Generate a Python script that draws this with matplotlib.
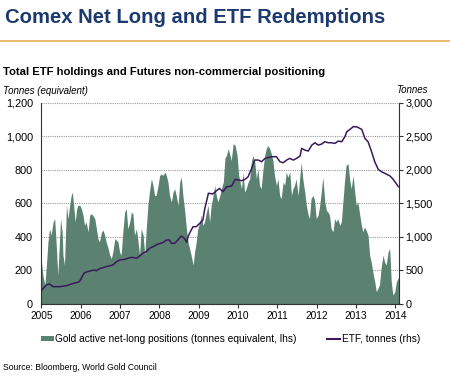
import numpy as np
import matplotlib
matplotlib.use("Agg")
import matplotlib.pyplot as plt
from matplotlib.patches import Patch
from matplotlib.lines import Line2D

plt.rcParams['font.family'] = ['Liberation Sans', 'DejaVu Sans']

# Gold active net-long positions (tonnes equivalent, lhs), decimal years
netlong_t = [
    2005.00, 2005.04, 2005.09, 2005.13, 2005.17, 2005.21, 2005.25, 2005.30, 2005.34, 2005.38,
    2005.42, 2005.47, 2005.49, 2005.53, 2005.55, 2005.59, 2005.64, 2005.68, 2005.72, 2005.76,
    2005.79, 2005.83, 2005.86, 2005.90, 2005.93, 2005.98, 2006.02, 2006.06, 2006.10, 2006.14,
    2006.19, 2006.23, 2006.27, 2006.31, 2006.36, 2006.40, 2006.44, 2006.48, 2006.53, 2006.57,
    2006.61, 2006.65, 2006.70, 2006.74, 2006.78, 2006.82, 2006.87, 2006.91, 2006.95, 2006.99,
    2007.03, 2007.08, 2007.12, 2007.16, 2007.20, 2007.25, 2007.29, 2007.33, 2007.37, 2007.42,
    2007.46, 2007.50, 2007.54, 2007.59, 2007.63, 2007.67, 2007.71, 2007.76, 2007.80, 2007.84,
    2007.88, 2007.92, 2007.97, 2008.01, 2008.05, 2008.09, 2008.14, 2008.18, 2008.22, 2008.26,
    2008.31, 2008.35, 2008.39, 2008.43, 2008.48, 2008.52, 2008.56, 2008.60, 2008.65, 2008.69,
    2008.73, 2008.77, 2008.81, 2008.86, 2008.90, 2008.94, 2008.98, 2009.03, 2009.07, 2009.11,
    2009.15, 2009.20, 2009.24, 2009.28, 2009.32, 2009.37, 2009.41, 2009.45, 2009.49, 2009.54,
    2009.58, 2009.63, 2009.67, 2009.71, 2009.75, 2009.79, 2009.83, 2009.88, 2009.93, 2009.98,
    2010.02, 2010.04, 2010.09, 2010.13, 2010.17, 2010.21, 2010.26, 2010.30, 2010.34, 2010.38,
    2010.43, 2010.47, 2010.51, 2010.55, 2010.59, 2010.64, 2010.68, 2010.72, 2010.76, 2010.81,
    2010.85, 2010.89, 2010.93, 2010.98, 2011.02, 2011.06, 2011.10, 2011.15, 2011.19, 2011.23,
    2011.27, 2011.32, 2011.36, 2011.40, 2011.44, 2011.48, 2011.53, 2011.57, 2011.61, 2011.65,
    2011.70, 2011.74, 2011.78, 2011.82, 2011.86, 2011.91, 2011.95, 2011.99, 2012.04, 2012.08,
    2012.12, 2012.16, 2012.21, 2012.25, 2012.29, 2012.33, 2012.37, 2012.42, 2012.46, 2012.50,
    2012.54, 2012.59, 2012.63, 2012.67, 2012.71, 2012.75, 2012.80, 2012.84, 2012.88, 2012.93,
    2012.97, 2013.01, 2013.05, 2013.10, 2013.14, 2013.18, 2013.22, 2013.26, 2013.31, 2013.35,
    2013.39, 2013.43, 2013.48, 2013.52, 2013.56, 2013.60, 2013.64, 2013.69, 2013.73, 2013.77,
    2013.82, 2013.86, 2013.90, 2013.94, 2013.99, 2014.03, 2014.07, 2014.09,
]
netlong = [
    260, 172, 113, 232, 370, 449, 410, 489, 509, 350,
    172, 410, 509, 430, 291, 232, 588, 509, 588, 647,
    667, 568, 489, 568, 588, 588, 568, 529, 469, 489,
    430, 529, 538, 529, 509, 449, 390, 370, 430, 440,
    410, 370, 330, 291, 271, 311, 390, 380, 370, 311,
    291, 449, 548, 568, 449, 489, 548, 538, 410, 449,
    370, 291, 449, 410, 291, 449, 588, 687, 746, 707,
    647, 647, 707, 766, 776, 766, 786, 766, 727, 647,
    608, 667, 687, 647, 588, 727, 756, 647, 548, 449,
    370, 330, 291, 232, 311, 370, 449, 489, 529, 469,
    489, 548, 588, 489, 588, 647, 707, 647, 608, 647,
    687, 728, 869, 887, 925, 895, 855, 956, 945, 885,
    766, 746, 687, 786, 667, 687, 727, 746, 845, 885,
    845, 746, 806, 707, 687, 806, 885, 925, 945, 925,
    895, 855, 766, 707, 746, 647, 628, 727, 707, 786,
    756, 786, 647, 687, 707, 746, 647, 746, 845, 746,
    667, 588, 538, 509, 628, 647, 618, 509, 529, 588,
    667, 756, 608, 558, 548, 529, 449, 430, 509, 489,
    509, 469, 489, 608, 727, 826, 836, 746, 687, 766,
    667, 588, 608, 529, 469, 430, 459, 440, 410, 291,
    251, 192, 133, 73, 93, 113, 212, 291, 251, 232,
    311, 330, 133, 53, 73, 133, 152, 160,
]

# ETF holdings, tonnes (rhs)
etf_t = [
    2005.00, 2005.13, 2005.21, 2005.30, 2005.47, 2005.64, 2005.76, 2005.89, 2005.97, 2006.06,
    2006.10, 2006.23, 2006.36, 2006.40, 2006.48, 2006.65, 2006.82, 2006.91, 2006.99, 2007.12,
    2007.25, 2007.33, 2007.42, 2007.50, 2007.58, 2007.67, 2007.75, 2007.84, 2007.97, 2008.09,
    2008.18, 2008.26, 2008.31, 2008.39, 2008.47, 2008.56, 2008.64, 2008.70, 2008.73, 2008.79,
    2008.86, 2008.94, 2009.03, 2009.11, 2009.15, 2009.19, 2009.25, 2009.36, 2009.46, 2009.53,
    2009.62, 2009.71, 2009.84, 2009.93, 2010.01, 2010.10, 2010.18, 2010.26, 2010.35, 2010.43,
    2010.52, 2010.60, 2010.69, 2010.86, 2010.98, 2011.07, 2011.15, 2011.24, 2011.32, 2011.41,
    2011.49, 2011.58, 2011.62, 2011.70, 2011.79, 2011.88, 2011.96, 2012.04, 2012.13, 2012.21,
    2012.30, 2012.38, 2012.47, 2012.55, 2012.64, 2012.72, 2012.77, 2012.85, 2012.93, 2013.02,
    2013.15, 2013.23, 2013.31, 2013.40, 2013.48, 2013.57, 2013.65, 2013.74, 2013.87, 2013.95,
    2014.04, 2014.08,
]
etf = [
    200, 285, 298, 258, 258, 273, 298, 318, 333, 432,
    467, 492, 506, 496, 526, 556, 581, 630, 655, 665,
    690, 695, 680, 715, 755, 779, 829, 854, 894, 913,
    953, 953, 904, 904, 953, 1013, 978, 918, 1003, 1077,
    1152, 1152, 1202, 1251, 1400, 1499, 1650, 1640, 1690, 1723,
    1673, 1745, 1758, 1857, 1847, 1837, 1857, 1897, 2021, 2145,
    2145, 2120, 2170, 2195, 2195, 2120, 2105, 2145, 2170, 2145,
    2170, 2204, 2319, 2294, 2279, 2368, 2403, 2368, 2383, 2418,
    2403, 2403, 2393, 2428, 2418, 2492, 2567, 2602, 2641, 2641,
    2602, 2468, 2418, 2269, 2120, 2006, 1971, 1946, 1907, 1857,
    1782, 1748,
]

years = list(range(2005, 2015))
left_ticks = [0, 200, 400, 600, 800, 1000, 1200]
right_ticks = [0, 500, 1000, 1500, 2000, 2500, 3000]

green = '#5b8170'
purple = '#3a1a5c'

fig = plt.figure(figsize=(4.5, 3.85), dpi=100)
ax = fig.add_axes([0.0918, 0.2104, 0.794, 0.5229])

ax.fill_between(netlong_t, netlong, 0, color=green, lw=0, zorder=2)
ax.set_xlim(2005, 2014.087)
ax.set_ylim(0, 1200)
ax.set_yticks(left_ticks)
ax.set_yticklabels([f'{v:,}' for v in left_ticks], fontsize=7.8)
ax.set_xticks(years)
ax.set_xticklabels([str(y) for y in years], fontsize=7.3)
ax.yaxis.grid(True, linestyle=(0, (1, 1)), color='#9a9a9a', lw=0.8, zorder=1)
ax.set_axisbelow(True)
for s in ['top', 'right']:
    ax.spines[s].set_visible(False)
ax.spines['left'].set_color('#333333')
ax.spines['bottom'].set_color('#333333')
ax.tick_params(axis='y', length=0, pad=6)
ax.tick_params(axis='x', length=3, direction='out', color='#333333', pad=2)

ax2 = ax.twinx()
ax2.plot(etf_t, etf, color=purple, lw=1.1, zorder=3)
ax2.set_ylim(0, 3000)
ax2.set_yticks(right_ticks)
ax2.set_yticklabels([f'{v:,}' for v in right_ticks], fontsize=7.8)
for s in ['top', 'left', 'bottom']:
    ax2.spines[s].set_visible(False)
ax2.spines['right'].set_color('#333333')
ax2.tick_params(axis='y', length=3, direction='out', color='#333333', pad=2)

fig.text(0.011, 1 - 17.5 / 385, 'Comex Net Long and ETF Redemptions', fontsize=14.6,
         fontweight='bold', color='#1c3a70', va='center', ha='left')
fig.add_artist(Line2D([0, 1], [1 - 41.3 / 385] * 2, color='#e6a444', lw=1.1,
                      transform=fig.transFigure))
fig.text(0.007, 1 - 72 / 385, 'Total ETF holdings and Futures non-commercial positioning',
         fontsize=8.1, fontweight='bold', color='black', va='center', ha='left')
fig.text(0.007, 1 - 91 / 385, 'Tonnes (equivalent)', fontsize=7, style='italic',
         va='center', ha='left')
fig.text(0.951, 1 - 90 / 385, 'Tonnes', fontsize=7, style='italic',
         va='center', ha='right')

handles = [Patch(facecolor=green, edgecolor='none'),
           Line2D([0], [0], color=purple, lw=1.5)]
labels = ['Gold active net-long positions (tonnes equivalent, lhs)', 'ETF, tonnes (rhs)']
fig.legend(handles, labels, loc='center left', bbox_to_anchor=(0.09, 1 - 339 / 385),
           ncol=2, frameon=False, fontsize=7.3, handlelength=1.3, handleheight=0.5,
           handletextpad=0.15, columnspacing=3.0, borderaxespad=0, borderpad=0)

fig.text(0.007, 1 - 368 / 385, 'Source: Bloomberg, World Gold Council', fontsize=6.2,
         va='center', ha='left')

fig.savefig('out.png', dpi=100)
